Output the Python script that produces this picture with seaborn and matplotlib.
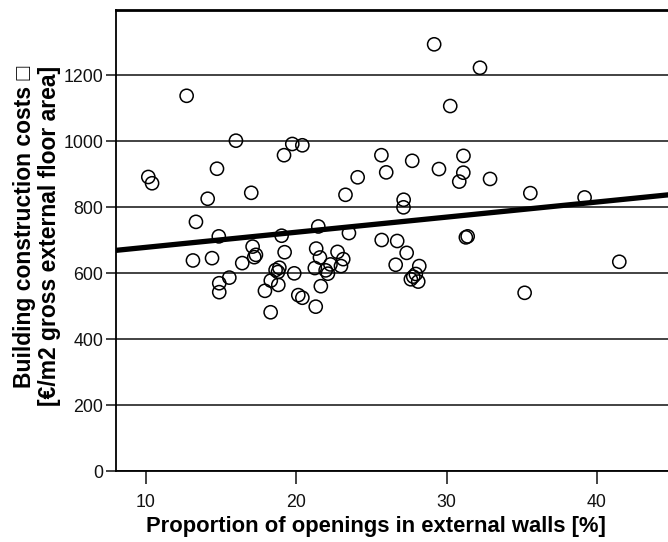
import matplotlib
matplotlib.use("Agg")
import matplotlib.pyplot as plt
import seaborn as sns
import pandas as pd

# Share of window/door openings in the external walls [%]
openings_pct = [
    10.15, 10.40, 12.70, 13.32, 13.12, 14.10, 14.39, 14.72, 14.84, 14.87,
    14.87, 15.54, 15.98, 16.40, 17.00, 17.09, 17.31, 17.20, 17.91, 18.30,
    18.29, 18.62, 18.78, 18.87, 18.80, 19.02, 19.18, 19.22, 19.73, 19.86,
    20.13, 20.40, 20.40, 21.29, 21.32, 21.46, 21.57, 21.23, 21.63, 21.95,
    22.10, 22.27, 22.74, 22.97, 23.12, 23.27, 23.50, 24.08, 25.66, 25.68,
    25.98, 26.61, 26.71, 27.14, 27.13, 27.34, 27.78, 27.95, 28.11, 27.62,
    27.71, 28.18, 29.17, 29.49, 30.24, 30.84, 31.12, 31.11, 31.28, 31.40,
    32.22, 32.89, 35.19, 35.57, 39.18, 41.49,
]

# Building construction costs [EUR per m2 gross external floor area]
costs_eur_m2 = [
    891, 872, 1137, 755, 638, 825, 645, 916, 711, 569,
    542, 586, 1001, 630, 843, 680, 655, 648, 546, 577,
    481, 609, 603, 616, 564, 713, 957, 663, 991, 599,
    533, 525, 987, 498, 674, 741, 647, 615, 560, 608,
    598, 626, 664, 621, 642, 837, 721, 890, 957, 700,
    905, 625, 697, 822, 799, 661, 589, 597, 574, 581,
    940, 621, 1293, 915, 1106, 877, 955, 904, 708, 711,
    1222, 885, 540, 842, 829, 634,
]

x_ticks = [10, 20, 30, 40]
y_ticks = [0, 200, 400, 600, 800, 1000, 1200]

df = pd.DataFrame({"openings": openings_pct, "costs": costs_eur_m2})

sns.set_theme(style="white")
plt.rcParams["font.family"] = ["Liberation Sans", "DejaVu Sans"]

fig = plt.figure(figsize=(6.68, 5.42), dpi=100)
ax = fig.add_axes([116 / 668, 71 / 542, 552 / 668, 461 / 542])

ax.set_xlim(8, 44.73)
ax.set_ylim(0, 1397)

# horizontal reference lines
ax.yaxis.grid(True, color="#222222", linewidth=1.2)
ax.xaxis.grid(False)
ax.set_axisbelow(True)

sns.scatterplot(
    data=df, x="openings", y="costs", ax=ax,
    marker="o", s=90, facecolor="none", edgecolor="black", linewidth=1.1,
    zorder=3,
)
sns.regplot(
    data=df, x="openings", y="costs", ax=ax, scatter=False, ci=None,
    truncate=False, color="black", line_kws={"linewidth": 3.8, "zorder": 4},
)

ax.set_xticks(x_ticks)
ax.set_yticks(y_ticks)
ax.tick_params(axis="x", direction="out", length=9.4, width=1.2, color="#222222",
               labelsize=12.8, pad=7, bottom=True, labelcolor="#111111")
ax.tick_params(axis="y", direction="out", length=7.5, width=1.2, color="#222222",
               labelsize=12.8, pad=1.5, left=True, labelcolor="#111111")

for side in ("left", "bottom"):
    ax.spines[side].set_color("black")
    ax.spines[side].set_linewidth(1.3)
ax.spines["top"].set_color("black")
ax.spines["top"].set_linewidth(2.0)
ax.spines["right"].set_visible(False)

ax.set_xlabel("Proportion of openings in external walls [%]",
              fontsize=15.8, fontweight="bold", color="black")
ax.set_ylabel("Building construction costs \u25a1\n[€/m2 gross external floor area]",
              fontsize=16.5, fontweight="bold", linespacing=1.1, color="black",
              multialignment="right")
ax.xaxis.set_label_coords(0.471, -0.098)
ax.yaxis.set_label_coords(-0.1, 0.51)

fig.savefig("out.png", dpi=100)
